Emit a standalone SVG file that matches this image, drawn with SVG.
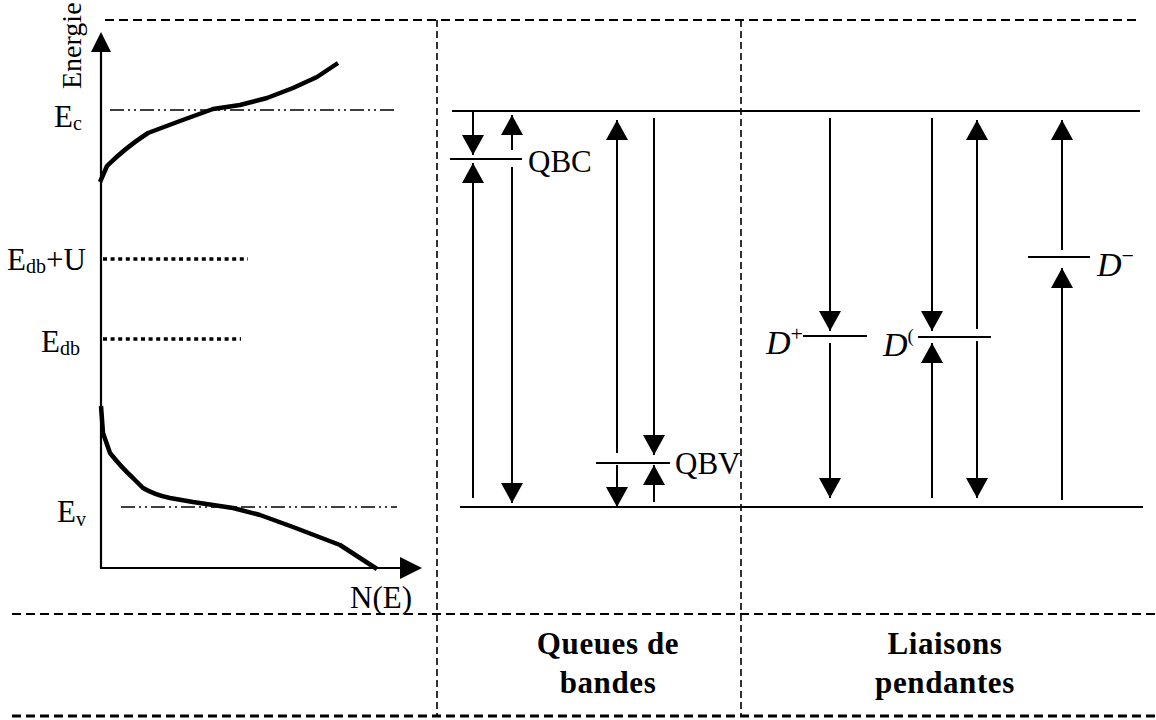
<svg xmlns="http://www.w3.org/2000/svg" width="1156" height="720" viewBox="0 0 1156 720">
  <style>
    .lbl { font-family: "Liberation Serif", "Times New Roman", serif; fill: #000; }
    .big { font-size: 31px; }
    .sub { font-size: 20px; }
    .ital { font-family: "Liberation Serif", "Times New Roman", serif; font-style: italic; font-size: 34px; fill: #000; }
    .head { font-family: "Liberation Serif", "Times New Roman", serif; font-weight: bold; font-size: 31px; letter-spacing: 0.6px; fill: #000; text-anchor: middle; }
    .frame { stroke: #000; fill: none; stroke-width: 2; stroke-dasharray: 9 5; }
    .framev { stroke: #000; fill: none; stroke-width: 1.6; stroke-dasharray: 7 4; }
    .level { stroke: #000; stroke-width: 2; fill: none; }
    .tr { stroke: #000; stroke-width: 2; fill: none; }
    .tr.arr { marker-end: url(#tip); }
    .curve { stroke: #000; stroke-width: 4.5; fill: none; stroke-linejoin: round; }
    .edge { stroke: #000; stroke-width: 1.6; fill: none; stroke-dasharray: 14 4 2 4 2 4; }
    .dots { stroke: #000; stroke-width: 3.5; fill: none; stroke-dasharray: 4 3.6; }
    .axis { stroke: #000; stroke-width: 2.2; fill: none; }
  </style>
  <defs>
    <marker id="tip" markerUnits="userSpaceOnUse" markerWidth="22" markerHeight="22" refX="20" refY="11" orient="auto">
      <path d="M0,0 L20,11 L0,22 Z" fill="#000"/>
    </marker>
  </defs>
  <rect width="1156" height="720" fill="#fff"/>

  <!-- dashed table frame -->
  <g id="frame">
    <line class="frame" x1="105" y1="20" x2="1140" y2="20"/>
    <line class="frame" x1="12" y1="614" x2="1156" y2="614"/>
    <line class="frame" x1="12" y1="716" x2="1156" y2="716" style="stroke-width:3"/>
    <line class="framev" x1="437" y1="20" x2="437" y2="716"/>
    <line class="framev" x1="741" y1="20" x2="741" y2="716"/>
  </g>

  <!-- density of states panel -->
  <g id="dos">
    <line class="axis" x1="101" y1="568" x2="101" y2="52"/>
    <path d="M91,52 L101,32 L111,52 Z" fill="#000"/>
    <line class="axis" x1="100" y1="568" x2="401" y2="568"/>
    <path d="M400,557 L422,568 L400,579 Z" fill="#000"/>
    <text class="lbl" style="font-size:28px" transform="translate(81,89) rotate(-90)">Energie</text>
    <text class="lbl" x="350" y="608" style="font-size:31px">N(E)</text>

    <line class="edge" x1="110" y1="110" x2="397" y2="110"/>
    <line class="edge" x1="121" y1="507" x2="397" y2="507"/>
    <line class="dots" x1="103" y1="259" x2="248" y2="259"/>
    <line class="dots" x1="103" y1="339" x2="241" y2="339"/>

    <path class="curve" d="M100,182 L107,166 Q125,148 148,133 L180,121 L213,109 L240,105 L267,98 L293,88 L317,77 L338,63"/>
    <path class="curve" d="M101,406 L103,433 L110,453 Q122,468 133,478 L143,488 Q155,495 170,498 L193,502 L233,508 L260,515 L293,527 L340,545 L377,569"/>

    <text class="lbl big" x="54" y="127">E<tspan class="sub" dy="3">c</tspan></text>
    <text class="lbl big" x="7" y="270">E<tspan class="sub" dy="3">db</tspan><tspan dy="-3">+U</tspan></text>
    <text class="lbl big" x="41" y="352">E<tspan class="sub" dy="3">db</tspan></text>
    <text class="lbl big" x="57" y="522">E<tspan class="sub" dy="4">v</tspan></text>
  </g>

  <!-- band edges -->
  <g id="bands">
    <line class="level" x1="452" y1="111" x2="1140" y2="111"/>
    <line class="level" x1="460" y1="507" x2="1143" y2="507"/>
  </g>

  <!-- band tail levels -->
  <g id="qbc">
    <line class="level" x1="450" y1="159" x2="522" y2="159"/>
    <text class="lbl big" x="528" y="172">QBC</text>
  </g>
  <g id="qbv">
    <line class="level" x1="596" y1="463" x2="670" y2="463"/>
    <text class="lbl big" x="675" y="474">QBV</text>
  </g>

  <!-- dangling bond levels -->
  <g id="dplus">
    <line class="level" x1="803" y1="336" x2="867" y2="336"/>
    <text class="ital" x="766" y="354">D<tspan style="font-size:22px;font-style:normal" dy="-13">+</tspan></text>
  </g>
  <g id="dzero">
    <line class="level" x1="918" y1="337" x2="991" y2="337"/>
    <text class="ital" x="883" y="356">D<tspan style="font-size:19px;font-style:normal" dy="-14">(</tspan></text>
  </g>
  <g id="dminus">
    <line class="level" x1="1028" y1="257" x2="1090" y2="257"/>
    <text class="ital" x="1097" y="276">D<tspan style="font-size:22px;font-style:normal" dy="-13">−</tspan></text>
  </g>

  <!-- transitions -->
  <g id="transitions">
    <line class="tr arr" x1="473" y1="111" x2="473" y2="155"/>
    <line class="tr arr" x1="512" y1="150" x2="512" y2="115"/>
    <line class="tr arr" x1="473" y1="498" x2="473" y2="163"/>
    <line class="tr arr" x1="512" y1="167" x2="512" y2="503"/>
    <line class="tr arr" x1="617" y1="453" x2="617" y2="120"/>
    <line class="tr arr" x1="654" y1="118" x2="654" y2="455"/>
    <line class="tr arr" x1="617" y1="465" x2="617" y2="507"/>
    <line class="tr arr" x1="654" y1="502" x2="654" y2="465"/>

    <line class="tr arr" x1="830" y1="118" x2="830" y2="331"/>
    <line class="tr arr" x1="830" y1="343" x2="830" y2="498"/>
    <line class="tr arr" x1="932" y1="118" x2="932" y2="331"/>
    <line class="tr arr" x1="932" y1="498" x2="932" y2="343"/>
    <line class="tr arr" x1="977" y1="329" x2="977" y2="120"/>
    <line class="tr arr" x1="977" y1="341" x2="977" y2="498"/>
    <line class="tr arr" x1="1062" y1="250" x2="1062" y2="120"/>
    <line class="tr arr" x1="1062" y1="500" x2="1062" y2="268"/>
  </g>

  <!-- column captions -->
  <g id="captions">
    <text class="head" x="608" y="654">Queues de</text>
    <text class="head" x="608" y="693">bandes</text>
    <text class="head" x="945" y="654">Liaisons</text>
    <text class="head" x="945" y="693">pendantes</text>
  </g>
</svg>
